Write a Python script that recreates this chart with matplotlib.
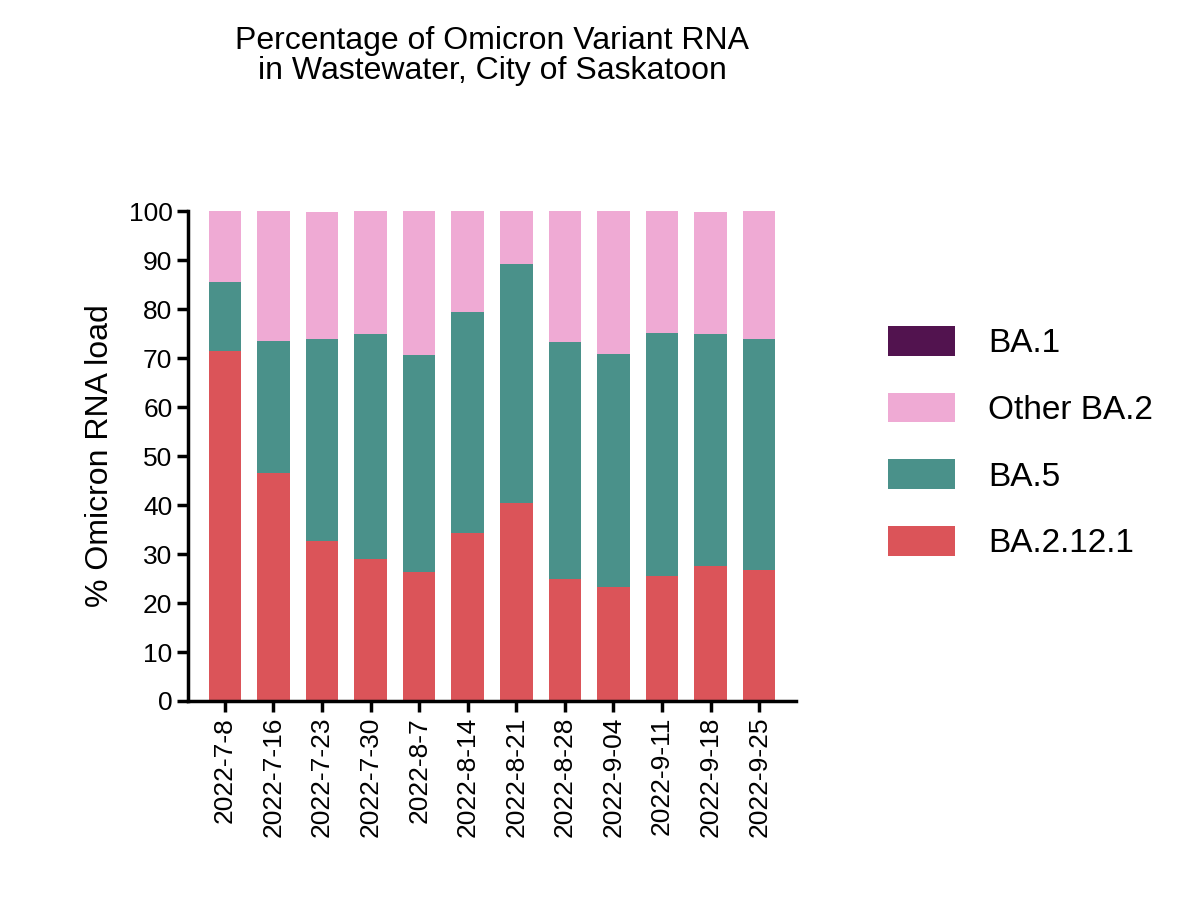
import matplotlib
matplotlib.use("Agg")
import matplotlib.pyplot as plt
import numpy as np

plt.rcParams['font.family'] = ['Liberation Sans', 'DejaVu Sans']

dates = ["2022-7-8","2022-7-16","2022-7-23","2022-7-30","2022-8-7","2022-8-14",
         "2022-8-21","2022-8-28","2022-9-04","2022-9-11","2022-9-18","2022-9-25"]
ba2121 = [71.5, 46.5, 32.7, 29.0, 26.4, 34.3, 40.4, 25.0, 23.3, 25.5, 27.5, 26.7]
ba5 = [14.0, 27.0, 41.3, 46.0, 44.3, 45.2, 48.8, 48.2, 47.5, 49.7, 47.5, 47.1]
other_ba2 = [14.5, 26.5, 25.8, 25.0, 29.3, 20.5, 10.8, 26.8, 29.2, 24.8, 24.8, 26.2]
ba1 = [0]*12

fig = plt.figure(figsize=(12, 9.22), dpi=100)
ax = fig.add_axes([0.157, 0.2397, 0.506, 0.5313])
x = np.arange(len(dates))
w = 0.67
b1 = np.array(ba2121); b2 = b1 + np.array(ba5); b3 = b2 + np.array(other_ba2)
h1 = ax.bar(x, ba2121, w, color='#DB5459', label='BA.2.12.1')
h2 = ax.bar(x, ba5, w, bottom=b1, color='#4A918A', label='BA.5')
h3 = ax.bar(x, other_ba2, w, bottom=b2, color='#EFAAD4', label='Other BA.2')
h4 = ax.bar(x, ba1, w, bottom=b3, color='#52134F', label='BA.1')

ax.set_ylim(0, 100)
ax.set_xlim(-0.75, 11.75)
ax.set_yticks(range(0, 101, 10))
ax.set_xticks(x)
ax.set_xticklabels(dates, rotation=90)
for s in ['top', 'right']:
    ax.spines[s].set_visible(False)
for s in ['left', 'bottom']:
    ax.spines[s].set_linewidth(2.5)
ax.tick_params(width=2.5, length=8, labelsize=19)
ax.set_ylabel('% Omicron RNA load', fontsize=23, labelpad=10)
ax.set_title('Percentage of Omicron Variant RNA\nin Wastewater, City of Saskatoon',
             fontsize=23, pad=95, linespacing=1.0)
fig.legend([h4, h3, h2, h1], ['BA.1', 'Other BA.2', 'BA.5', 'BA.2.12.1'],
           loc='center left', bbox_to_anchor=(0.715, 0.52), frameon=False,
           fontsize=24, handlelength=2.0, handleheight=1.0, labelspacing=1.0,
           handletextpad=1.0)
fig.savefig('out.png', dpi=100)
